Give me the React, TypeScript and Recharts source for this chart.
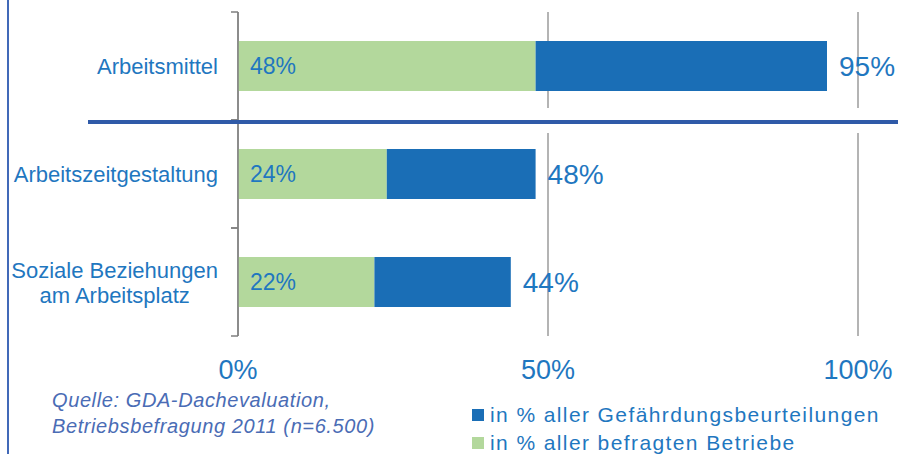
import { Bar, BarChart, CartesianGrid, LabelList, XAxis, YAxis } from "recharts";

const categories = ["Arbeitsmittel", "Arbeitszeitgestaltung", "Soziale Beziehungen\nam Arbeitsplatz"];
// in % aller befragten Betriebe
const betriebe = [48, 24, 22];
// in % aller Gefährdungsbeurteilungen
const beurteilungen = [95, 48, 44];
const xTicks = [0, 50, 100];

const W = 898;
const H = 454;
const TOP = 12;
const BOTTOM = 118;
const AXIS_X = 238;
const BAND = (H - TOP - BOTTOM) / categories.length;

const BLUE = "#1a6eb6";
const GREEN = "#b3d89c";
const TEXT = "#1f77c0";
const FONT = "'Liberation Sans', Arial, sans-serif";

const data = categories.map((name, i) => ({
  name,
  betriebe: betriebe[i],
  rest: beurteilungen[i] - betriebe[i],
  total: beurteilungen[i],
}));

let ctx: CanvasRenderingContext2D | null = null;
function textWidth(s: string, size: number) {
  if (!ctx) ctx = document.createElement("canvas").getContext("2d");
  if (!ctx) return s.length * size * 0.5;
  ctx.font = `${size}px ${FONT}`;
  return ctx.measureText(s).width;
}

function CategoryTick({ y, payload }: any) {
  const lines: string[] = String(payload.value).split("\n");
  const size = 22;
  const lh = 25;
  const right = AXIS_X - 20;
  const multi = lines.length > 1;
  const widest = Math.max(...lines.map((l) => textWidth(l, size)));
  const tx = multi ? right - widest / 2 : right;
  const y0 = y - ((lines.length - 1) * lh) / 2;
  return (
    <g>
      <line x1={AXIS_X - 7} x2={AXIS_X} y1={y - BAND / 2} y2={y - BAND / 2} stroke="#7f7f7f" strokeWidth={1.5} />
      <line x1={AXIS_X - 7} x2={AXIS_X} y1={y + BAND / 2} y2={y + BAND / 2} stroke="#7f7f7f" strokeWidth={1.5} />
      <text
        x={tx}
        y={y0}
        textAnchor={multi ? "middle" : "end"}
        dominantBaseline="central"
        fill={TEXT}
        fontSize={size}
        fontFamily={FONT}
      >
        {lines.map((l, i) => (
          <tspan key={i} x={tx} y={y0 + i * lh}>
            {l}
          </tspan>
        ))}
      </text>
    </g>
  );
}

export default function App() {
  return (
    <div style={{ position: "absolute", left: 0, top: 0, width: W, height: H, background: "#fff", fontFamily: FONT }}>
      <BarChart
        width={W}
        height={H}
        data={data}
        layout="vertical"
        margin={{ top: TOP, right: W - AXIS_X - 620, bottom: BOTTOM - 30, left: 0 }}
      >
        <CartesianGrid horizontal={false} stroke="#8c8c8c" strokeWidth={1.3} />
        <XAxis
          type="number"
          domain={[0, 100]}
          ticks={xTicks}
          tickFormatter={(v) => `${v}%`}
          axisLine={false}
          tickLine={false}
          tickSize={0}
          tickMargin={24}
          height={30}
          tick={{ fill: TEXT, fontSize: 27, fontFamily: FONT }}
        />
        <YAxis
          type="category"
          dataKey="name"
          width={AXIS_X}
          axisLine={{ stroke: "#7f7f7f", strokeWidth: 1.5 }}
          tickLine={false}
          tickSize={0}
          tickMargin={0}
          tick={<CategoryTick />}
          interval={0}
        />
        <Bar dataKey="betriebe" stackId="a" fill={GREEN} barSize={50} isAnimationActive={false}>
          <LabelList
            dataKey="betriebe"
            position="insideLeft"
            offset={12}
            formatter={(v: any) => `${v}%`}
            fill={TEXT}
            fontSize={23}
            fontFamily={FONT}
          />
        </Bar>
        <Bar dataKey="rest" stackId="a" fill={BLUE} barSize={50} isAnimationActive={false}>
          <LabelList
            dataKey="total"
            position="right"
            offset={12}
            formatter={(v: any) => `${v}%`}
            fill={TEXT}
            fontSize={28}
            fontFamily={FONT}
          />
        </Bar>
      </BarChart>

      {/* separator between Arbeitsmittel and the rest */}
      <div style={{ position: "absolute", left: AXIS_X + 2, top: 108, width: W - AXIS_X - 2, height: 25, background: "#fff" }} />
      <div style={{ position: "absolute", left: 88, top: 120, width: W - 88, height: 4, background: "#2f5aa8" }} />
      <div style={{ position: "absolute", left: 7, top: 0, width: 2, height: H, background: "#4169b8" }} />

      <div
        style={{
          position: "absolute",
          left: 52,
          top: 387,
          fontSize: 20,
          lineHeight: "26px",
          fontStyle: "italic",
          color: "#4a6cb5",
          letterSpacing: 0.6,
        }}
      >
        Quelle: GDA-Dachevaluation,
        <br />
        Betriebsbefragung 2011 (n=6.500)
      </div>

      <div style={{ position: "absolute", left: 472, top: 401, fontSize: 21, lineHeight: "28px", color: TEXT, letterSpacing: 1.4 }}>
        {[
          { label: "in % aller Gefährdungsbeurteilungen", color: BLUE },
          { label: "in % aller befragten Betriebe", color: GREEN },
        ].map((e) => (
          <div key={e.label} style={{ display: "flex", alignItems: "center", whiteSpace: "nowrap" }}>
            <span style={{ display: "inline-block", width: 12, height: 12, background: e.color, marginRight: 6 }} />
            {e.label}
          </div>
        ))}
      </div>
    </div>
  );
}
